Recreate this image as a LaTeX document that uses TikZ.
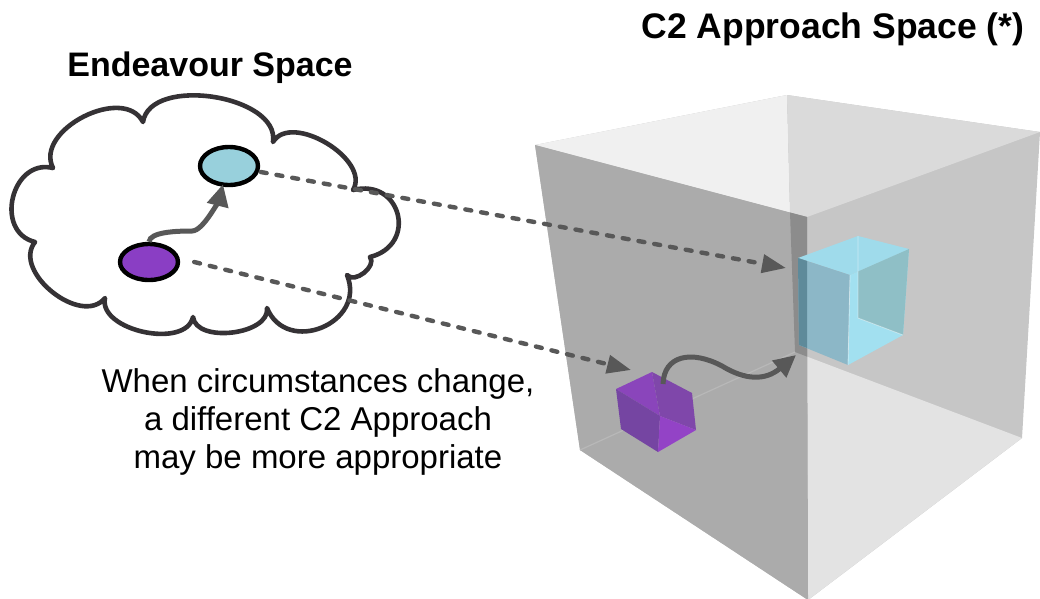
\documentclass[tikz,border=0pt]{standalone}
\usepackage{fontspec}
\setmainfont{Liberation Sans}
\usetikzlibrary{arrows.meta,calc,shapes.geometric}
\definecolor{arrgray}{HTML}{585858}
\definecolor{cloudline}{HTML}{353235}
\definecolor{cyanfill}{HTML}{98D0DC}
\definecolor{purpfill}{HTML}{8A3EC4}
\tikzset{
  bump/.style n args={3}{insert path={.. controls ($(#1)!#3!90:(#2)$) and ($(#2)!#3!-90:(#1)$) .. (#2)}},
  dasharrow/.style={draw=arrgray, line width=4.4pt, dash pattern=on 6pt off 10pt, line cap=round,
     -{Triangle[length=24pt,width=18pt]}},
  curvearrow/.style={draw=arrgray, line width=5pt, -{Triangle[length=22pt,width=21pt]}},
  bubble/.style={ellipse, draw=black, line width=4.4pt, inner sep=0pt},
  titletext/.style={font=\bfseries\fontsize{34}{40}\selectfont, inner sep=0pt, anchor=base},
  bodytext/.style={font=\fontsize{33}{38}\selectfont, inner sep=0pt, anchor=base},
}
\begin{document}
\begin{tikzpicture}[x=1pt,y=-1pt]
\useasboundingbox (0,0) rectangle (1040,598);
% ---------- big cube ----------
\fill[fill={rgb,255:red,198;green,198;blue,198}] (535,145) -- (787,95) -- (1040,132) -- (1022,438) -- (808,600) -- (580,450) -- cycle;
\fill[fill={rgb,255:red,240;green,240;blue,240}] (535,145) -- (787,95) -- (790,212.5) -- cycle;
\fill[fill={rgb,255:red,218;green,218;blue,218}] (787,95) -- (1040,132) -- (807,217) -- (790,212.5) -- cycle;
\fill[fill={rgb,255:red,227;green,227;blue,227}] (807,356.6) -- (1022,438) -- (808,600) -- cycle;
\fill[fill={rgb,255:red,171;green,171;blue,171}] (535,145) -- (807,217) -- (808,600) -- (580,450) -- cycle;
\fill[fill={rgb,255:red,140;green,140;blue,140}] (790,212.5) -- (807,217) -- (807,356.6) -- (795,352) -- cycle;
\draw[draw={rgb,255:red,184;green,184;blue,184}, line width=1.2pt] (580,450) -- (795,352);
% ---------- cyan cube ----------
\fill[fill={rgb,255:red,159;green,219;blue,235}] (798,258) -- (858,236) -- (909,249) -- (850,275) -- cycle;
\fill[fill={rgb,255:red,140;green,183;blue,199}] (798,258) -- (850,275) -- (848,365) -- (799,345) -- cycle;
\fill[fill={rgb,255:red,94;green,138;blue,154}] (798,258) -- (807,261) -- (807,348) -- (799,345) -- cycle;
\fill[fill={rgb,255:red,162;green,224;blue,240}] (850,275) -- (909,249) -- (903,335) -- (848,365) -- cycle;
\fill[fill={rgb,255:red,143;green,191;blue,198}] (858,271.5) -- (909,249) -- (903,335) -- (858,318) -- cycle;
\draw[white, opacity=0.45, line width=0.8pt] (850,275) -- (848,365) (858,236) -- (858,318) -- (903,335);
% ---------- purple cube ----------
\fill[fill={rgb,255:red,138;green,69;blue,187}] (616,389) -- (652,372) -- (660,416) -- cycle;
\fill[fill={rgb,255:red,127;green,71;blue,170}] (652,372) -- (692,393) -- (696,430) -- (660,416) -- cycle;
\fill[fill={rgb,255:red,117;green,69;blue,162}] (616,389) -- (660,416) -- (658,452) -- (621,429) -- cycle;
\fill[fill={rgb,255:red,147;green,67;blue,198}] (660,416) -- (696,430) -- (658,452) -- cycle;
\coordinate (cyancube) at (796,355);
\coordinate (purpcube) at (663,384);
\coordinate (cyantgt) at (786,268);
\coordinate (purptgt) at (631,370);
% ---------- cloud ----------
\coordinate (C1) at (53,168);
\coordinate (C2) at (143,122);
\coordinate (C3) at (273,142);
\coordinate (C4) at (353,190);
\coordinate (C5) at (370,257);
\coordinate (C6) at (347,275);
\coordinate (C8) at (267,308);
\coordinate (C9) at (193,317);
\coordinate (C10) at (105,298);
\coordinate (C11) at (35,242);
\draw[draw=cloudline, fill=white, line width=4.6pt, line join=round]
  (C11) [bump={C11}{C1}{0.56}] [bump={C1}{C2}{0.42}] [bump={C2}{C3}{0.36}]
  [bump={C3}{C4}{0.38}] [bump={C4}{C5}{0.72}] [bump={C5}{C6}{0.4}]
  [bump={C6}{C8}{0.6}] [bump={C8}{C9}{0.36}] [bump={C9}{C10}{0.37}]
  [bump={C10}{C11}{0.42}] -- cycle;
\node[bubble, fill=cyanfill, minimum width=58pt, minimum height=38pt] (cyan) at (229,166) {};
\node[bubble, fill=purpfill, minimum width=58pt, minimum height=36pt] (purp) at (149,262) {};
\draw[curvearrow] (purp.north) .. controls +(1,-10) and +(-15,0) .. (192,231)
   .. controls +(12,0) and +(-3,12) .. ([xshift=-6pt,yshift=3pt]cyan.south);
% ---------- connectors ----------
\draw[dasharrow] ([xshift=6pt,yshift=6pt]cyan.-25) -- (cyantgt);
\draw[dasharrow] ([xshift=14pt]purp.east) -- (purptgt);
\draw[curvearrow] (purpcube) .. controls (664,355) and (692,350) .. (722,366)
   .. controls (745,380) and (765,381) .. (cyancube);
% ---------- text ----------
\node[titletext] (endtitle) at (210,76) {Endeavour Space};
\node[titletext, font=\bfseries\fontsize{35.5}{40}\selectfont] (c2title) at (833,38) {C2 Approach Space (*)};
\node[bodytext] (note1) at (318,392) {When circumstances change,};
\node[bodytext] (note2) at (318,430) {a different C2 Approach};
\node[bodytext] (note3) at (318,468) {may be more appropriate};
\end{tikzpicture}
\end{document}
